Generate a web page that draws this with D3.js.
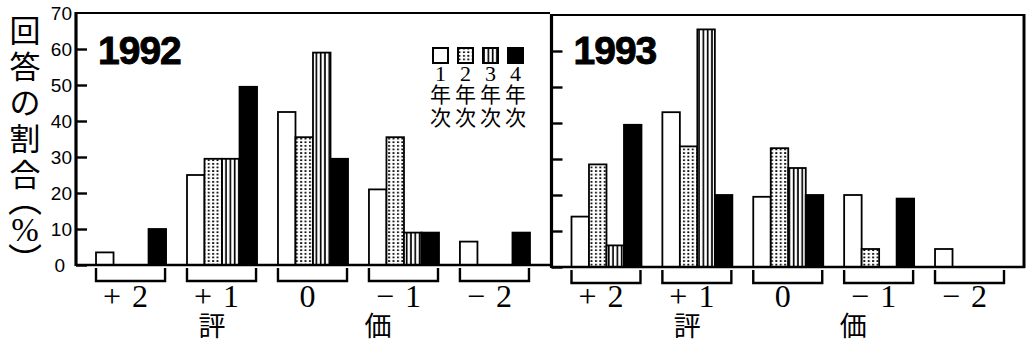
<!DOCTYPE html>
<html><head><meta charset="utf-8">
<script src="https://cdn.jsdelivr.net/npm/d3@7"></script>
<style>body{margin:0;background:#fff}svg{display:block}</style>
</head><body><svg id="c" width="1027" height="345"></svg>
<script>
// ---- data ----
const categories = ["+2", "+1", "0", "\u22121", "\u22122"];
const seriesNames = ["1年次", "2年次", "3年次", "4年次"];
const legendNums = ["1", "2", "3", "4"];
const years = ["1992", "1993"];
const yTicks = [0, 10, 20, 30, 40, 50, 60, 70];
const v1992_1 = [3.5, 25, 42.5, 21, 6.5];
const v1992_2 = [0, 29.5, 35.5, 35.5, 0];
const v1992_3 = [0, 29.5, 59, 9, 0];
const v1992_4 = [10, 49.5, 29.5, 9, 9];
const v1993_1 = [14, 43, 19.5, 20, 5];
const v1993_2 = [28.5, 33.5, 33, 5, 0];
const v1993_3 = [6, 66, 27.5, 0, 0];
const v1993_4 = [39.5, 20, 20, 19, 0];
const yTitleChars = ["回", "答", "の", "割", "合"];
const xTitleChars = ["評", "価"];

// ---- drawing ----
const svg = d3.select("#c");
const defs = svg.append("defs");
const pDots = defs.append("pattern").attr("id", "dots").attr("patternUnits", "userSpaceOnUse")
  .attr("width", 4.4).attr("height", 3.6);
pDots.append("rect").attr("width", 4.4).attr("height", 3.6).attr("fill", "#fff");
pDots.append("rect").attr("x", 1).attr("y", 1).attr("width", 1.9).attr("height", 1.7).attr("fill", "#000");
const pStripes = defs.append("pattern").attr("id", "stripes").attr("patternUnits", "userSpaceOnUse")
  .attr("width", 4.3).attr("height", 10);
pStripes.append("rect").attr("width", 4.3).attr("height", 10).attr("fill", "#fff");
pStripes.append("rect").attr("x", 1.6).attr("width", 1.7).attr("height", 10).attr("fill", "#000");
const fills = ["#fff", "url(#dots)", "url(#stripes)", "#000"];

const panels = [
  { year: years[0], series: [v1992_1, v1992_2, v1992_3, v1992_4], x0: 76, x1: 550, y0: 265, y1: 13, labels: true },
  { year: years[1], series: [v1993_1, v1993_2, v1993_3, v1993_4], x0: 551.5, x1: 1025, y0: 267, y1: 15, labels: false }
];

panels.forEach(p => {
  const g = svg.append("g");
  const xg = d3.scaleBand().domain(categories).range([p.x0, p.x1]).paddingInner(0.23).paddingOuter(0.22);
  const xs = d3.scaleBand().domain(d3.range(seriesNames.length)).range([0, xg.bandwidth()]);
  const y = d3.scaleLinear().domain([0, 70]).range([p.y0, p.y1]);

  // bars
  p.series.forEach((vals, si) => {
    g.append("g").selectAll("rect").data(categories.map((c, ci) => ({ c, v: vals[ci] })).filter(d => d.v > 0))
      .join("rect")
      .attr("x", d => xg(d.c) + xs(si))
      .attr("y", d => y(d.v))
      .attr("width", xs.bandwidth())
      .attr("height", d => y(0) - y(d.v))
      .attr("fill", fills[si])
      .attr("stroke", "#000").attr("stroke-width", 1.8);
  });

  // frame top / baseline
  g.append("line").attr("x1", p.x0).attr("x2", p.x1).attr("y1", y(70)).attr("y2", y(70))
    .attr("stroke", "#000").attr("stroke-width", 2.2);
  g.append("line").attr("x1", p.x0).attr("x2", p.x1).attr("y1", y(0)).attr("y2", y(0))
    .attr("stroke", "#000").attr("stroke-width", 2.6);
  if (!p.labels) {
    g.append("line").attr("x1", p.x1 - 1).attr("x2", p.x1 - 1).attr("y1", y(70) - 1).attr("y2", y(0) + 1)
      .attr("stroke", "#000").attr("stroke-width", 3);
  }

  // axis
  const axis = d3.axisLeft(y).tickValues(yTicks).tickSizeInner(-11).tickSizeOuter(0).tickPadding(4);
  if (!p.labels) axis.tickFormat("");
  const ax = g.append("g").attr("transform", `translate(${p.x0},0)`).call(axis);
  ax.select(".domain").attr("stroke-width", 3.2).attr("d", `M0,${y(70) - 1}V${y(0) + 1}`);
  ax.selectAll(".tick line").attr("stroke-width", 2.4);
  ax.selectAll(".tick").filter(d => d === 70).select("line").remove();
  ax.selectAll(".tick text").attr("font-family", "Liberation Sans, Arial, sans-serif").attr("font-size", 19)
    .attr("fill", "#000");
  ax.selectAll(".tick").filter(d => d === 0).select("text").attr("x", -11);

  // brackets + category labels
  categories.forEach(c => {
    const a = xg(c), b = xg(c) + xg.bandwidth() - 1;
    const top = y(0) + 3, bot = y(0) + 16;
    g.append("path").attr("d", `M${a},${top}V${bot}H${b}V${top}`)
      .attr("fill", "none").attr("stroke", "#000").attr("stroke-width", 2.4);
    g.append("text").attr("x", a + xg.bandwidth() / 2).attr("y", 307)
      .attr("text-anchor", "middle").attr("font-family", "Liberation Serif, serif")
      .attr("font-size", 32).attr("letter-spacing", 11).text(c);
  });
  // x title
  [["+1", -10], ["\u22121", -26]].forEach(([c, off], i) => {
    g.append("text").attr("x", xg(c) + xg.bandwidth() / 2 + off).attr("y", 336)
      .attr("text-anchor", "middle").attr("font-family", "Noto Sans CJK JP").attr("font-size", 27)
      .text(xTitleChars[i]);
  });

  // year
  g.append("text").attr("x", p.x0 + 22).attr("y", 64)
    .attr("font-family", "Liberation Sans, Arial, sans-serif").attr("font-weight", "bold")
    .attr("font-size", 39).attr("letter-spacing", -1)
    .attr("stroke", "#000").attr("stroke-width", 0.9).text(p.year);

  // legend
  if (p.labels) {
    const lx = d3.scaleBand().domain(d3.range(seriesNames.length)).range([428, 528]);
    seriesNames.forEach((s, i) => {
      const cx = lx(i) + lx.bandwidth() / 2;
      g.append("rect").attr("x", cx - 7.5).attr("y", 48).attr("width", 15).attr("height", 15)
        .attr("fill", fills[i]).attr("stroke", "#000").attr("stroke-width", 2);
      g.append("text").attr("x", cx).attr("y", 81).attr("text-anchor", "middle")
        .attr("font-family", "Liberation Serif, serif").attr("font-size", 22).text(legendNums[i]);
      const chars = Array.from(s.slice(1));
      chars.forEach((ch, k) => {
        g.append("text").attr("x", cx).attr("y", 102 + k * 23).attr("text-anchor", "middle")
          .attr("font-family", "Noto Sans CJK JP").attr("font-size", 21).text(ch);
      });
    });
  }
});

// y title
const yt = svg.append("g").attr("font-family", "Noto Sans CJK JP").attr("font-size", 31).attr("text-anchor", "middle");
yTitleChars.forEach((ch, i) => {
  yt.append("text").attr("x", 25).attr("y", 28 + i * 36).attr("dominant-baseline", "central").text(ch);
});
yt.append("text").attr("x", 25).attr("y", 197).attr("dominant-baseline", "central")
  .attr("font-size", 34).text("\uFE35");
yt.append("text").attr("x", 25).attr("y", 230).attr("dominant-baseline", "central")
  .attr("font-family", "Liberation Serif, serif").attr("font-size", 33).text("%");
yt.append("text").attr("x", 25).attr("y", 258).attr("dominant-baseline", "central")
  .attr("font-size", 34).text("\uFE36");
</script></body></html>
